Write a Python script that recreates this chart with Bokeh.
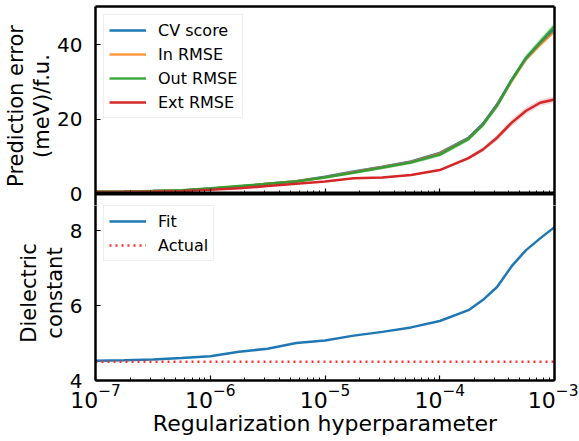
from bokeh.plotting import figure
from bokeh.layouts import column
from bokeh.models import (ColumnDataSource, Legend, LegendItem, LogTicker, FixedTicker, Range1d,
                          Band, CustomJSTickFormatter, LinearAxis, LogAxis)
from bokeh.embed import file_html
from bokeh.resources import INLINE

# ---- data ----
alpha = [1.0e-7, 1.78e-7, 3.16e-7, 5.62e-7, 1.0e-6, 1.78e-6, 3.16e-6, 5.62e-6,
         1.0e-5, 1.78e-5, 3.16e-5, 5.62e-5, 1.0e-4, 1.78e-4, 2.37e-4, 3.16e-4,
         4.22e-4, 5.62e-4, 7.50e-4, 1.0e-3]
cv_score = [0.5, 0.55, 0.65, 0.8, 1.3, 1.9, 2.6, 3.3, 4.5, 5.9, 7.2, 8.6, 10.9,
            15.0, 18.7, 24.0, 30.5, 36.3, 40.4, 44.2]
in_rmse = [0.5, 0.55, 0.65, 0.8, 1.3, 1.9, 2.6, 3.3, 4.4, 5.8, 7.1, 8.5, 10.8,
           14.8, 18.5, 23.8, 30.2, 36.0, 40.0, 43.6]
out_rmse = [0.5, 0.55, 0.7, 0.85, 1.4, 2.0, 2.6, 3.2, 4.3, 5.6, 6.9, 8.3, 10.4,
            14.6, 18.4, 23.6, 30.4, 36.4, 40.8, 45.0]
ext_rmse = [0.4, 0.45, 0.55, 0.7, 1.0, 1.4, 2.0, 2.6, 3.2, 4.1, 4.3, 5.0, 6.3,
            9.5, 11.8, 15.0, 19.0, 22.2, 24.4, 25.3]
cv_std = [0.05, 0.05, 0.05, 0.05, 0.1, 0.1, 0.1, 0.1, 0.15, 0.15, 0.2, 0.2, 0.25,
          0.3, 0.3, 0.35, 0.4, 0.4, 0.45, 0.5]
out_std = [0.1, 0.1, 0.1, 0.15, 0.2, 0.2, 0.25, 0.3, 0.3, 0.35, 0.4, 0.4, 0.5,
           0.6, 0.7, 0.8, 0.9, 1.0, 1.0, 1.1]
ext_std = [0.05, 0.05, 0.05, 0.05, 0.1, 0.1, 0.1, 0.1, 0.15, 0.15, 0.2, 0.2, 0.3,
           0.5, 0.6, 0.8, 0.9, 0.9, 0.8, 0.8]
fit = [4.53, 4.54, 4.56, 4.6, 4.65, 4.77, 4.85, 5.0, 5.07, 5.2, 5.3, 5.42, 5.59,
       5.88, 6.15, 6.5, 7.05, 7.48, 7.8, 8.1]
actual = [4.5] * len(alpha)

top_ylim = (0, 50.3)
bot_ylim = (4, 9.0)
top_yticks = [0, 20, 40]
bot_yticks = [4, 6, 8]

FONT = "DejaVu Sans"
C_BLUE, C_ORANGE, C_GREEN, C_RED = "#1f77b4", "#ff7f0e", "#2ca02c", "#d62728"

src = ColumnDataSource(dict(
    x=alpha, cv=cv_score, inr=in_rmse, outr=out_rmse, ext=ext_rmse, fit=fit, act=actual,
    cv_lo=[a - b for a, b in zip(cv_score, cv_std)], cv_hi=[a + b for a, b in zip(cv_score, cv_std)],
    out_lo=[a - b for a, b in zip(out_rmse, out_std)], out_hi=[a + b for a, b in zip(out_rmse, out_std)],
    ext_lo=[a - b for a, b in zip(ext_rmse, ext_std)], ext_hi=[a + b for a, b in zip(ext_rmse, ext_std)],
))

# ---- layout constants (pixels) ----
PANEL_H = 187          # height of each panel
OVERLAP = 12           # the top figure reaches this far below the shared spine
FW = 459


def style_axis(ax, size="20px", lw=2.5):
    ax.axis_line_width = lw
    ax.axis_line_color = "black"
    ax.major_tick_in = 5
    ax.major_tick_out = 0
    ax.minor_tick_in = 3
    ax.minor_tick_out = 0
    ax.major_tick_line_width = 1.2
    ax.minor_tick_line_width = 1
    ax.major_label_text_font = FONT
    ax.major_label_text_font_size = size
    ax.major_label_text_color = "black"
    ax.axis_label_text_font = FONT
    ax.axis_label_text_font_size = "21px"
    ax.axis_label_text_font_style = "normal"
    ax.axis_label_text_color = "black"
    ax.axis_label_text_line_height = 1.08


def blank_axis(cls):
    ax = cls(ticker=FixedTicker(ticks=[]))
    ax.axis_line_width = 2.5
    ax.axis_line_color = "black"
    ax.major_tick_in = 0
    ax.major_tick_out = 0
    ax.minor_tick_in = 0
    ax.minor_tick_out = 0
    return ax


# ---- top panel ----
top_lo = top_ylim[0] - (top_ylim[1] - top_ylim[0]) * OVERLAP / PANEL_H
p1 = figure(x_axis_type="log", x_range=Range1d(1e-7, 1e-3), y_range=Range1d(top_lo, top_ylim[1]),
            frame_width=FW, frame_height=PANEL_H + OVERLAP, min_border_left=95, min_border_right=24,
            min_border_top=6, min_border_bottom=0, output_backend="svg", toolbar_location=None)
p1.grid.visible = False
p1.outline_line_color = None
xm = p1.below[0]
yt = p1.left[0]
p1.add_layout(blank_axis(LogAxis), "above")
p1.add_layout(blank_axis(LinearAxis), "right")

style_axis(xm, "2px", lw=4)
xm.ticker = LogTicker(num_minor_ticks=10)
xm.formatter = CustomJSTickFormatter(code="return ' '")
xm.major_label_standoff = 0
xm.fixed_location = top_ylim[0]

style_axis(yt)
yt.ticker = FixedTicker(ticks=top_yticks)
yt.minor_tick_in = 0
yt.major_label_standoff = 13
yt.axis_label_standoff = 0
yt.axis_label = "Prediction error\n(meV)/f.u."

p1.add_layout(Band(base="x", lower="cv_lo", upper="cv_hi", source=src, fill_color=C_BLUE, fill_alpha=0.2, line_alpha=0))
p1.add_layout(Band(base="x", lower="out_lo", upper="out_hi", source=src, fill_color=C_GREEN, fill_alpha=0.2, line_alpha=0))
p1.add_layout(Band(base="x", lower="ext_lo", upper="ext_hi", source=src, fill_color=C_RED, fill_alpha=0.2, line_alpha=0))
r_cv = p1.line("x", "cv", source=src, color=C_BLUE, line_width=2.5)
r_in = p1.line("x", "inr", source=src, color=C_ORANGE, line_width=2.5, line_alpha=0.8)
r_out = p1.line("x", "outr", source=src, color=C_GREEN, line_width=2.5, line_alpha=0.9)
r_ext = p1.line("x", "ext", source=src, color=C_RED, line_width=2.5)

leg1 = Legend(items=[LegendItem(label="CV score", renderers=[r_cv]),
                     LegendItem(label="In RMSE", renderers=[r_in]),
                     LegendItem(label="Out RMSE", renderers=[r_out]),
                     LegendItem(label="Ext RMSE", renderers=[r_ext])],
              location="top_left", margin=8)

# ---- bottom panel ----
bot_hi = bot_ylim[0] + (bot_ylim[1] - bot_ylim[0]) * (PANEL_H - OVERLAP) / PANEL_H
p2 = figure(x_axis_type="log", x_range=p1.x_range, y_range=Range1d(bot_ylim[0], bot_hi),
            frame_width=FW, frame_height=PANEL_H - OVERLAP, min_border_left=95, min_border_right=24,
            min_border_top=0, min_border_bottom=4, output_backend="svg", toolbar_location=None)
p2.grid.visible = False
p2.outline_line_color = None
xb = p2.below[0]
yb = p2.left[0]
p2.add_layout(blank_axis(LinearAxis), "right")

style_axis(xb, "22px")
xb.ticker = LogTicker(num_minor_ticks=10)
xb.major_label_standoff = 3
xb.axis_label_standoff = 0
xb.axis_label_text_font_size = "22px"
xb.axis_label = "Regularization hyperparameter"

style_axis(yb)
yb.ticker = FixedTicker(ticks=bot_yticks)
yb.minor_tick_in = 0
yb.major_label_standoff = 13
yb.axis_label_standoff = 0
yb.axis_label = "Dielectric\nconstant"

r_fit = p2.line("x", "fit", source=src, color=C_BLUE, line_width=2.5)
r_act = p2.line("x", "act", source=src, color="#ff3030", line_width=2.5, line_dash="2 4")
leg2 = Legend(items=[LegendItem(label="Fit", renderers=[r_fit]),
                     LegendItem(label="Actual", renderers=[r_act])],
              location=(8, 119), margin=0)

for lg, fig in ((leg1, p1), (leg2, p2)):
    lg.label_text_font = FONT
    lg.label_text_font_size = "16px"
    lg.label_text_color = "black"
    lg.glyph_width = 37
    lg.glyph_height = 20
    lg.spacing = 4
    lg.label_standoff = 12
    lg.padding = 5
    lg.border_line_color = "#dddddd"
    lg.border_line_width = 1
    lg.background_fill_alpha = 0.8
    fig.add_layout(lg)

layout = column(p1, p2, spacing=0)
open("out.html", "w").write(file_html(layout, INLINE))
